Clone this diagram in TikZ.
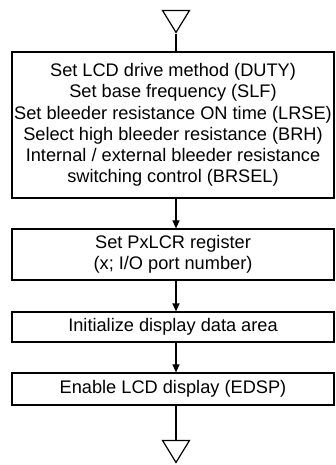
\documentclass[tikz,border=0pt]{standalone}
\usepackage{fontspec}
\setmainfont{Liberation Sans}
\usetikzlibrary{arrows.meta,shapes.geometric}
\begin{document}
\begin{tikzpicture}[
                    x=1pt, y=1pt,
                    line width=1.2pt,
                    font=\fontsize{18.2}{21.2}\selectfont,
                    stepbox/.style={draw, rectangle, minimum width=322pt, align=center, inner sep=0pt},
                    term/.style={draw, isosceles triangle, shape border rotate=-90, isosceles triangle stretches,
                                 minimum width=27pt, minimum height=22pt, inner sep=0pt},
                    flow/.style={-{Triangle[length=8pt,width=7pt]}}
                ]
                \useasboundingbox (0,0) rectangle (335,-465);

                \node[term, anchor=apex] (start) at (176,-34) {};

                \node[stepbox, minimum height=146pt] (drive) at (173,-125)
                    {Set LCD drive method (DUTY)\\ Set base frequency (SLF)\\
                     Set bleeder resistance ON time (LRSE)\\ Select high bleeder resistance (BRH)\\
                     Internal / external bleeder resistance\\ switching control (BRSEL)};
                \node[stepbox, minimum height=51pt] (pxlcr) at (173,-254.5)
                    {Set PxLCR register\\ (x; I/O port number)};
                \node[stepbox, minimum height=30pt] (init) at (173,-327) {Initialize display data area};
                \node[stepbox, minimum height=32pt] (edsp) at (173,-389) {Enable LCD display (EDSP)};

                \node[term, anchor=apex] (stop) at (176,-464) {};

                \draw (start.apex) -- (start.apex |- drive.north);
                \draw[flow] (drive.south -| start.apex) -- (pxlcr.north -| start.apex);
                \draw[flow] (pxlcr.south -| start.apex) -- (init.north -| start.apex);
                \draw[flow] (init.south -| start.apex) -- (edsp.north -| start.apex);
                \draw (edsp.south -| stop.apex) -- (stop.lower side);

            \end{tikzpicture}
\end{document}
